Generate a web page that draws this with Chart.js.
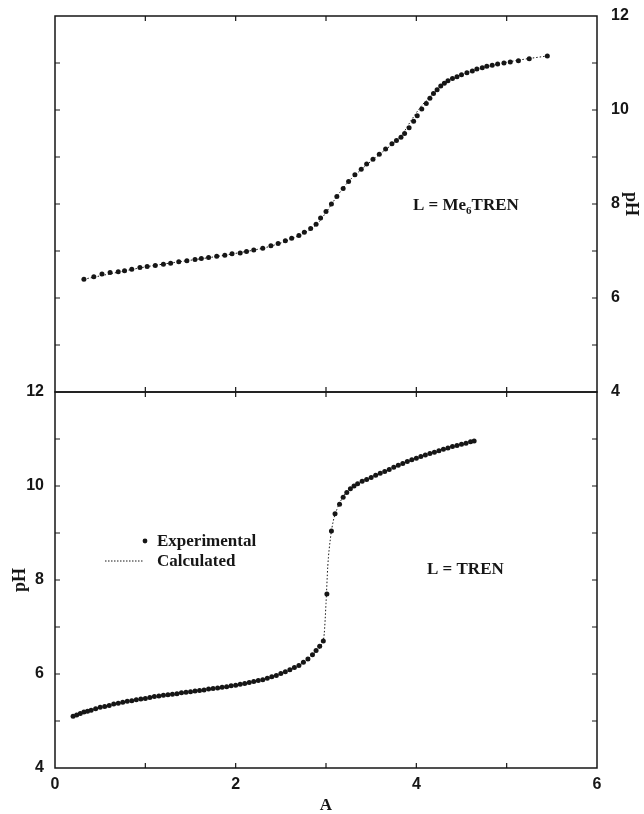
<!DOCTYPE html>
<html lang="en">
<head>
<meta charset="UTF-8">
<title>pH titration curves: Me6TREN and TREN</title>
<style>
  body { margin: 0; background: #fff; }
  #wrap { position: relative; width: 644px; height: 814px; }
  .panel { position: absolute; left: 0; width: 644px; }
  #topBox { top: 0; height: 410px; }
  #botBox { top: 370px; height: 444px; }
</style>
</head>
<body>
<div id="wrap">
  <div class="panel" id="topBox"><canvas id="topChart"></canvas></div>
  <div class="panel" id="botBox"><canvas id="botChart"></canvas></div>
</div>

<script src="https://cdn.jsdelivr.net/npm/chart.js"></script>
<script>
// axis ranges and tick labels
const xRange = [0, 6];
const yRange = [4, 12];
const xTickLabels = [0, 2, 4, 6];
const yTickLabels = [4, 6, 8, 10, 12];

// L = Me6TREN, experimental points
const me6A  = [0.32, 0.43, 0.52, 0.61, 0.70, 0.77, 0.85, 0.94, 1.02, 1.11, 1.20, 1.28, 1.37, 1.46, 1.55, 1.62,
               1.70, 1.79, 1.88, 1.96, 2.05, 2.12, 2.20, 2.30, 2.39, 2.47, 2.55, 2.62, 2.70, 2.76, 2.83, 2.89,
               2.94, 3.00, 3.06, 3.12, 3.19, 3.25, 3.32, 3.39, 3.45, 3.52, 3.59, 3.66, 3.73, 3.78, 3.83, 3.87,
               3.92, 3.97, 4.01, 4.06, 4.11, 4.15, 4.19, 4.23, 4.27, 4.31, 4.35, 4.40, 4.45, 4.50, 4.56, 4.62,
               4.67, 4.73, 4.78, 4.84, 4.90, 4.97, 5.04, 5.13, 5.25, 5.45];
const me6PH = [6.40, 6.45, 6.51, 6.54, 6.56, 6.58, 6.61, 6.65, 6.67, 6.69, 6.72, 6.74, 6.77, 6.79, 6.82, 6.84,
               6.86, 6.89, 6.91, 6.94, 6.96, 6.99, 7.02, 7.06, 7.11, 7.16, 7.22, 7.27, 7.33, 7.40, 7.48, 7.57,
               7.70, 7.84, 8.00, 8.16, 8.33, 8.48, 8.62, 8.74, 8.85, 8.95, 9.06, 9.17, 9.28, 9.35, 9.42, 9.50,
               9.62, 9.76, 9.88, 10.02, 10.14, 10.25, 10.35, 10.43, 10.51, 10.57, 10.62, 10.67, 10.71, 10.75, 10.79, 10.83,
               10.87, 10.90, 10.93, 10.95, 10.98, 11.00, 11.02, 11.05, 11.09, 11.15];

// L = Me6TREN, calculated curve
const me6CalcA  = [0.32, 1.00, 2.00, 2.40, 2.70, 2.90, 3.00, 3.12, 3.25, 3.40, 3.60, 3.75, 3.85, 3.95, 4.05, 4.15, 4.25, 4.35, 4.50, 4.80, 5.10, 5.45];
const me6CalcPH = [6.40, 6.66, 6.95, 7.11, 7.33, 7.57, 7.82, 8.16, 8.48, 8.75, 9.07, 9.30, 9.50, 9.80, 10.07, 10.28, 10.47, 10.61, 10.75, 10.93, 11.05, 11.15];

// L = TREN, experimental points
const trenA  = [0.20, 0.24, 0.28, 0.32, 0.36, 0.40, 0.45, 0.50, 0.55, 0.60, 0.65, 0.70, 0.75, 0.80, 0.85, 0.90,
                0.95, 1.00, 1.05, 1.10, 1.15, 1.20, 1.25, 1.30, 1.35, 1.40, 1.45, 1.50, 1.55, 1.60, 1.65, 1.70,
                1.75, 1.80, 1.85, 1.90, 1.95, 2.00, 2.05, 2.10, 2.15, 2.20, 2.25, 2.30, 2.35, 2.40, 2.45, 2.50,
                2.55, 2.60, 2.65, 2.70, 2.75, 2.80, 2.85, 2.89, 2.93, 2.97, 3.01, 3.06, 3.10, 3.15, 3.19, 3.23,
                3.27, 3.31, 3.35, 3.40, 3.45, 3.50, 3.55, 3.60, 3.65, 3.70, 3.75, 3.80, 3.85, 3.90, 3.95, 4.00,
                4.05, 4.10, 4.15, 4.20, 4.25, 4.30, 4.35, 4.40, 4.45, 4.50, 4.55, 4.60, 4.64];
const trenPH = [5.10, 5.13, 5.16, 5.19, 5.21, 5.23, 5.26, 5.29, 5.31, 5.33, 5.36, 5.38, 5.40, 5.42, 5.43, 5.45,
                5.47, 5.48, 5.50, 5.52, 5.53, 5.55, 5.56, 5.57, 5.58, 5.60, 5.61, 5.62, 5.64, 5.65, 5.66, 5.68,
                5.69, 5.70, 5.72, 5.73, 5.75, 5.76, 5.78, 5.80, 5.82, 5.84, 5.86, 5.88, 5.91, 5.94, 5.97, 6.01,
                6.05, 6.09, 6.14, 6.18, 6.25, 6.32, 6.41, 6.50, 6.59, 6.70, 7.70, 9.04, 9.41, 9.61, 9.76, 9.86,
                9.94, 10.00, 10.05, 10.10, 10.14, 10.18, 10.23, 10.27, 10.31, 10.35, 10.40, 10.44, 10.48, 10.52, 10.56, 10.59,
                10.63, 10.66, 10.69, 10.72, 10.75, 10.78, 10.81, 10.84, 10.86, 10.89, 10.91, 10.94, 10.96];

// L = TREN, calculated curve
const trenCalcA  = [0.20, 0.50, 1.00, 1.50, 2.00, 2.40, 2.70, 2.85, 2.95, 2.98, 3.00, 3.02, 3.05, 3.08, 3.12, 3.20, 3.35, 3.60, 4.00, 4.30, 4.64];
const trenCalcPH = [5.10, 5.29, 5.48, 5.62, 5.76, 5.94, 6.18, 6.41, 6.63, 6.85, 7.50, 8.30, 8.90, 9.25, 9.50, 9.80, 10.05, 10.27, 10.59, 10.78, 10.96];

const ink = '#161616';
const zip = (xs, ys) => xs.map((x, i) => ({ x: x, y: ys[i] }));

// frame with inward ticks on all four sides + text notes
const framePlugin = {
  id: 'frame',
  afterDatasetsDraw(chart, args, opts) {
    const { ctx, chartArea: a, scales } = chart;
    ctx.save();
    ctx.strokeStyle = ink;
    ctx.lineWidth = 1.5;
    ctx.strokeRect(a.left, a.top, a.right - a.left, a.bottom - a.top);
    ctx.lineWidth = 1.2;
    ctx.beginPath();
    for (let v = xRange[0] + 1; v < xRange[1]; v++) {
      const px = scales.x.getPixelForValue(v);
      ctx.moveTo(px, a.bottom); ctx.lineTo(px, a.bottom - 5);
      ctx.moveTo(px, a.top); ctx.lineTo(px, a.top + 5);
    }
    for (let v = yRange[0] + 1; v < yRange[1]; v++) {
      const py = scales.y.getPixelForValue(v);
      ctx.moveTo(a.left, py); ctx.lineTo(a.left + 5, py);
      ctx.moveTo(a.right, py); ctx.lineTo(a.right - 5, py);
    }
    ctx.stroke();
    if (opts.draw) opts.draw(ctx);
    ctx.restore();
  }
};

const serif = 'bold 17px "Liberation Serif", "Times New Roman", serif';

function drawTopNotes(ctx) {
  ctx.fillStyle = ink;
  ctx.textBaseline = 'alphabetic';
  ctx.textAlign = 'left';
  ctx.font = serif;
  let x = 413;
  const y = 210;
  ctx.fillText('L = Me', x, y);
  x += ctx.measureText('L = Me').width;
  ctx.font = 'bold 11px "Liberation Serif", serif';
  ctx.fillText('6', x, y + 4);
  x += ctx.measureText('6').width;
  ctx.font = serif;
  ctx.fillText('TREN', x, y);
}

function drawBottomNotes(ctx) {
  ctx.fillStyle = ink;
  ctx.strokeStyle = ink;
  ctx.font = serif;
  ctx.textBaseline = 'middle';
  ctx.textAlign = 'left';
  // legend, placed in canvas coords (bottom canvas starts at page y=370)
  ctx.beginPath();
  ctx.arc(145, 541 - 370, 2.4, 0, Math.PI * 2);
  ctx.fill();
  ctx.fillText('Experimental', 157, 542 - 370);
  ctx.lineWidth = 1;
  ctx.setLineDash([1.5, 1.5]);
  ctx.beginPath();
  ctx.moveTo(105, 561 - 370); ctx.lineTo(143, 561 - 370);
  ctx.stroke();
  ctx.setLineDash([]);
  ctx.fillText('Calculated', 157, 562 - 370);
  ctx.fillText('L = TREN', 427, 570 - 370);
}

function datasets(expA, expPH, calcA, calcPH) {
  return [
    {
      label: 'Experimental',
      data: zip(expA, expPH),
      showLine: false,
      pointRadius: 2.5,
      pointBackgroundColor: ink,
      pointBorderWidth: 0
    },
    {
      label: 'Calculated',
      data: zip(calcA, calcPH),
      showLine: true,
      borderColor: ink,
      borderWidth: 1,
      borderDash: [1.5, 2],
      cubicInterpolationMode: 'monotone',
      pointRadius: 0
    }
  ];
}

const tickFont = { family: '"Liberation Sans", Arial, sans-serif', size: 16, weight: 'bold' };
const keepTicks = (axis) => { axis.ticks = axis.ticks.filter(t => yTickLabels.includes(t.value) || xTickLabels.includes(t.value)); };
// fixed axis size, and no extra room asked for the end labels
const fixSize = (w, h) => (s) => {
  if (w !== null) s.width = w;
  if (h !== null) s.height = h;
  s.paddingTop = 0; s.paddingBottom = 0; s.paddingLeft = 0; s.paddingRight = 0;
};

// top panel: L = Me6TREN, y axis on the right
new Chart(document.getElementById('topChart'), {
  type: 'scatter',
  data: { datasets: datasets(me6A, me6PH, me6CalcA, me6CalcPH) },
  plugins: [framePlugin],
  options: {
    responsive: true,
    maintainAspectRatio: false,
    animation: false,
    layout: { padding: { left: 55, top: 16, bottom: 18, right: 0 } },
    plugins: {
      legend: { display: false },
      tooltip: { enabled: false },
      frame: { draw: drawTopNotes }
    },
    scales: {
      x: { type: 'linear', display: false, min: xRange[0], max: xRange[1] },
      y: {
        type: 'linear',
        position: 'right',
        min: yRange[0], max: yRange[1],
        afterFit: fixSize(47, null),
        afterBuildTicks: keepTicks,
        grid: { display: false, drawTicks: false },
        border: { display: false },
        ticks: { stepSize: 2, padding: 14, color: ink, font: tickFont },
        title: {
          display: true, text: 'pH', color: ink,
          font: { family: '"Liberation Serif", serif', size: 18, weight: 'bold' },
          padding: { top: 3, bottom: 0 }
        }
      }
    }
  }
});

// bottom panel: L = TREN, y axis on the left
new Chart(document.getElementById('botChart'), {
  type: 'scatter',
  data: { datasets: datasets(trenA, trenPH, trenCalcA, trenCalcPH) },
  plugins: [framePlugin],
  options: {
    responsive: true,
    maintainAspectRatio: false,
    animation: false,
    layout: { padding: { left: 0, top: 22, bottom: 0, right: 47 } },
    plugins: {
      legend: { display: false },
      tooltip: { enabled: false },
      frame: { draw: drawBottomNotes }
    },
    scales: {
      x: {
        type: 'linear',
        min: xRange[0], max: xRange[1],
        afterFit: fixSize(null, 46),
        afterBuildTicks: keepTicks,
        grid: { display: false, drawTicks: false },
        border: { display: false },
        ticks: { stepSize: 2, padding: 7, color: ink, font: tickFont },
        title: {
          display: true, text: 'A', color: ink,
          font: { family: '"Liberation Serif", serif', size: 17, weight: 'bold', lineHeight: 1 },
          padding: { top: 0, bottom: 0 }
        }
      },
      y: {
        type: 'linear',
        position: 'left',
        min: yRange[0], max: yRange[1],
        afterFit: fixSize(55, null),
        afterBuildTicks: keepTicks,
        grid: { display: false, drawTicks: false },
        border: { display: false },
        ticks: { stepSize: 2, padding: 11, color: ink, font: tickFont },
        title: {
          display: true, text: 'pH', color: ink,
          font: { family: '"Liberation Serif", serif', size: 18, weight: 'bold' },
          padding: { top: 10, bottom: 0 }
        }
      }
    }
  }
});
</script>
</body>
</html>
